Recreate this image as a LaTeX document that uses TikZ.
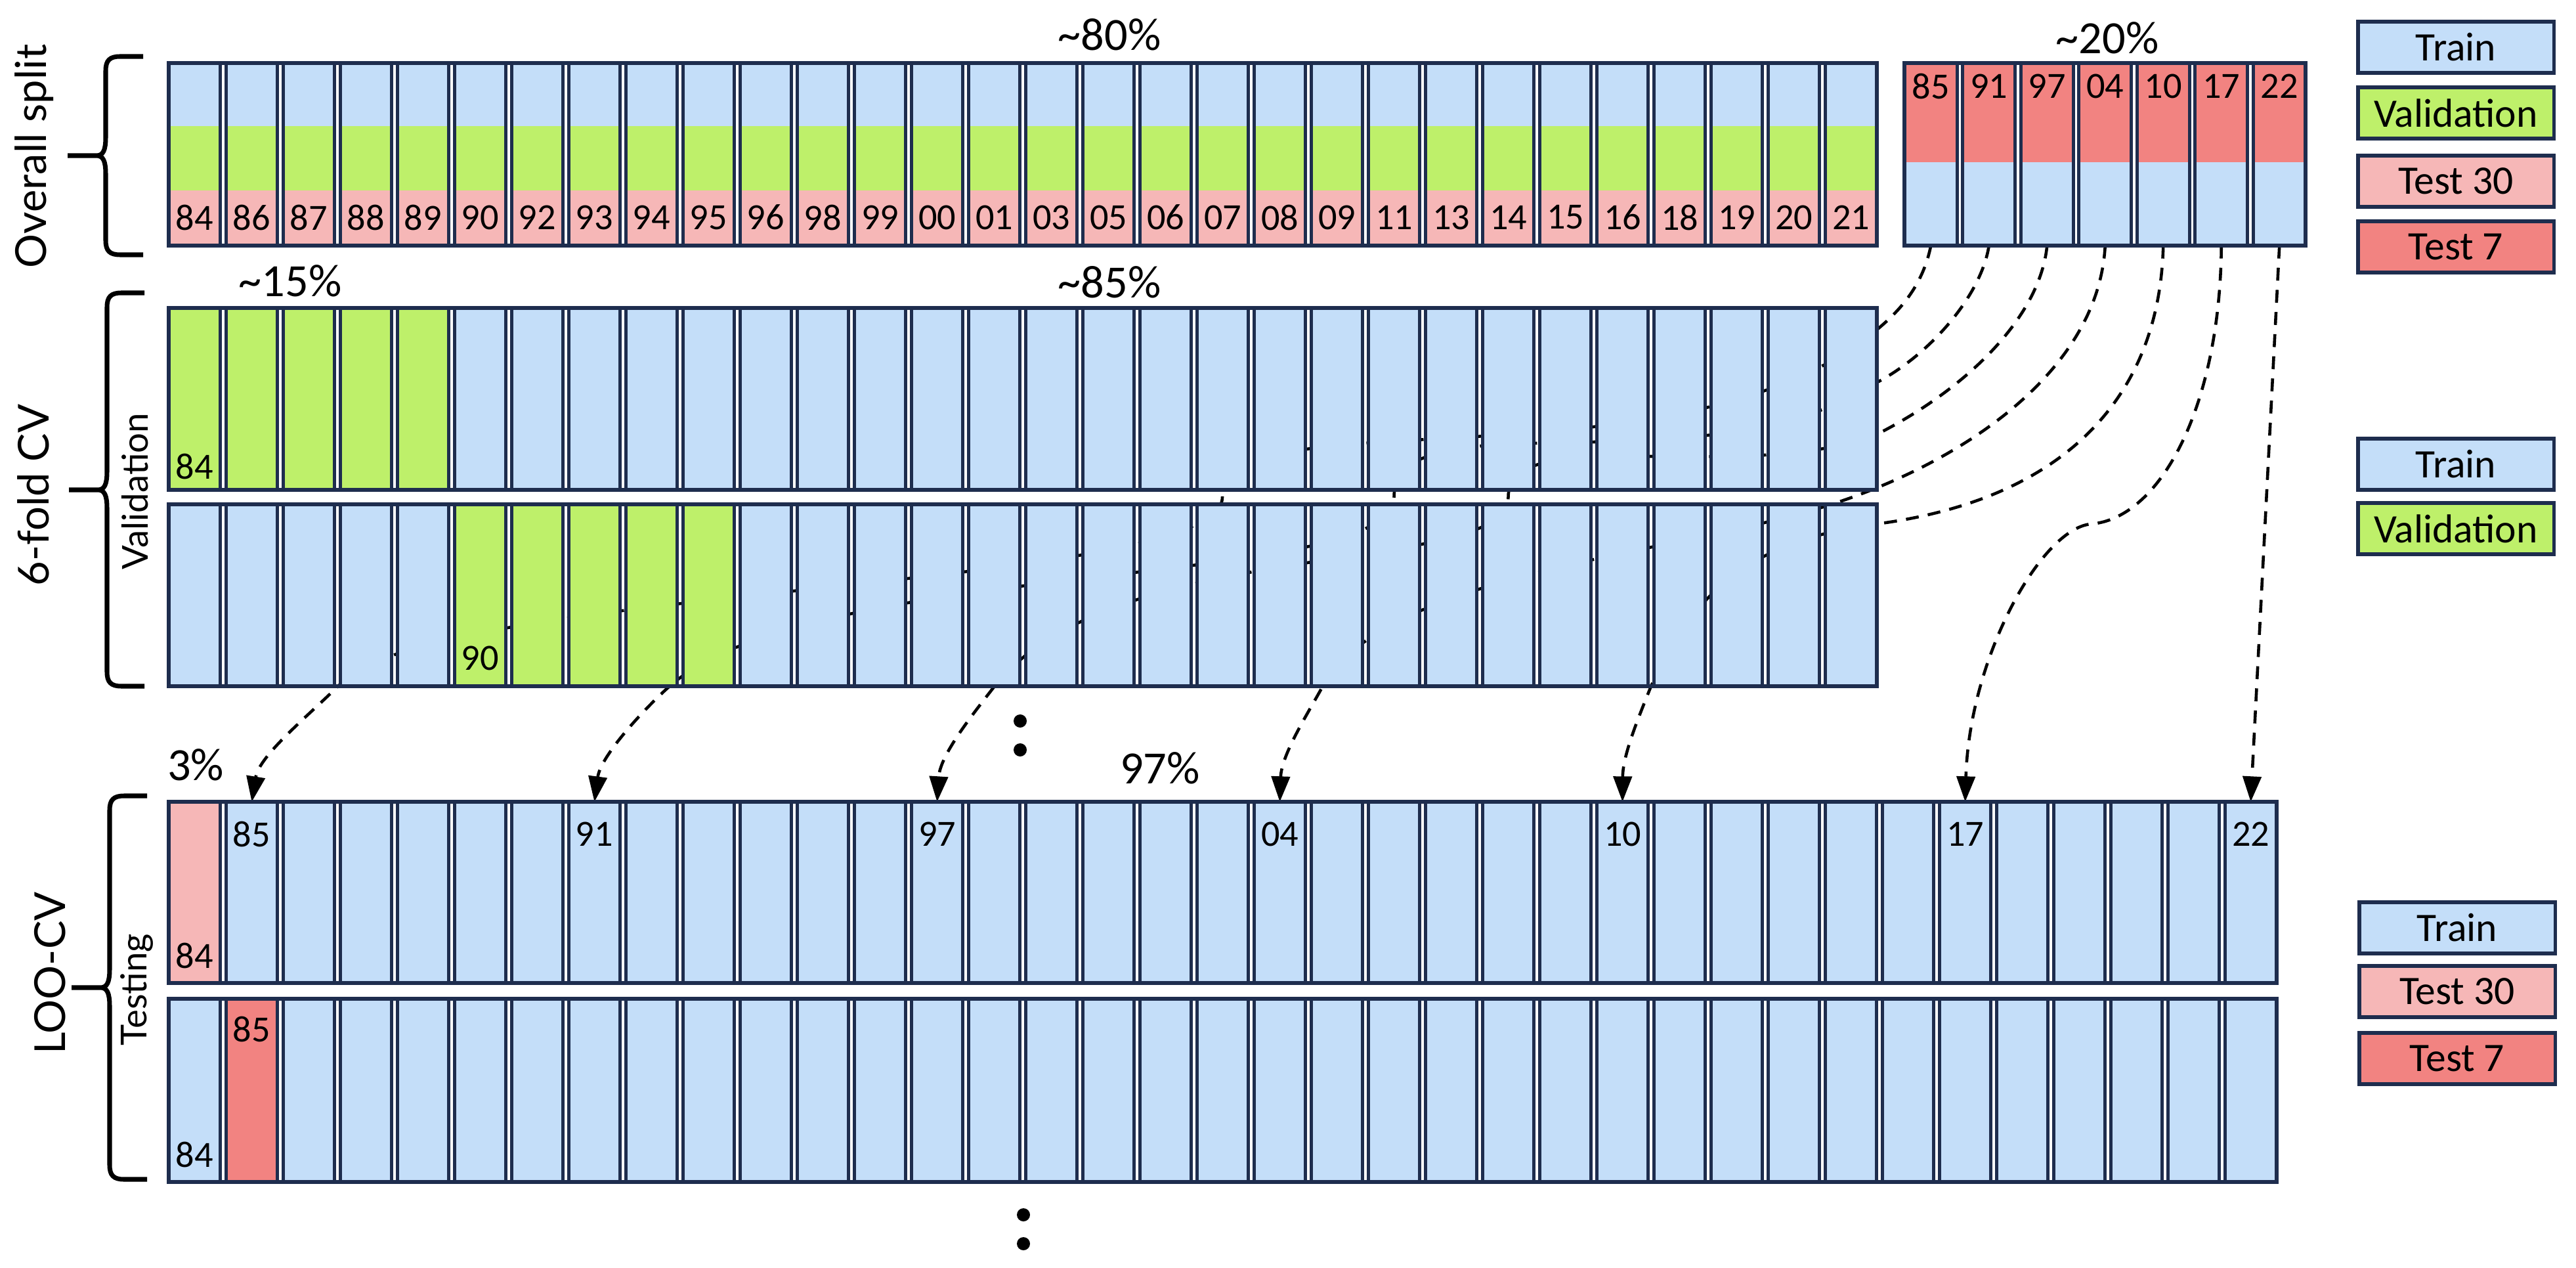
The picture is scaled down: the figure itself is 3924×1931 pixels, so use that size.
\documentclass[tikz,border=0pt]{standalone}
\usepackage{fontspec}
\setmainfont{Carlito}
\newfontfamily\sectfont{Lato}
\usetikzlibrary{arrows.meta}

\definecolor{trainblue}{RGB}{196,222,249}
\definecolor{valgreen}{RGB}{190,240,106}
\definecolor{testpink}{RGB}{246,183,183}
\definecolor{testred}{RGB}{242,131,129}
\definecolor{rim}{RGB}{30,45,78}

\pgfdeclarelayer{behind}
\pgfsetlayers{behind,main}

\begin{document}
\begin{tikzpicture}[
		x=0.01cm, y=-0.01cm,
		col/.style={draw=rim, line width=1.45pt},
		rowframe/.style={draw=rim, line width=1.8pt},
		yearlab/.style={inner sep=0pt, font=\fontsize{16}{16}\selectfont},
		share/.style={inner sep=0pt, font=\fontsize{20}{20}\selectfont},
		legbox/.style={draw=rim, line width=1.5pt, minimum width=2.98cm, minimum height=0.78cm, inner sep=0pt, font=\fontsize{17.5}{17.5}\selectfont},
		secttext/.style={inner sep=0pt, rotate=90, font=\sectfont\fontsize{18.5}{18.5}\selectfont},
		subtext/.style={inner sep=0pt, rotate=90, font=\sectfont\fontsize{15.5}{15.5}\selectfont},
		grp/.style={line width=2pt},
		link/.style={line width=1.3pt, dash pattern=on 5.6pt off 4pt, -{Triangle[length=11pt, width=8pt]}},
		dot/.style={circle, fill, inner sep=0pt, minimum size=0.2cm},
	]
		\useasboundingbox (0,0) rectangle (3924,1931);

		% overall split, ~80% part
		\foreach \yr [count=\k] in {84,86,87,88,89,90,92,93,94,95,96,98,99,00,01,03,05,06,07,08,09,11,13,14,15,16,18,19,20,21} {
			\pgfmathsetmacro{\xl}{253+(\k-1)*87+4.25}
			\pgfmathsetmacro{\xr}{\xl+78.5}
			\fill[trainblue] (\xl,96) rectangle (\xr,192);
			\fill[valgreen] (\xl,192) rectangle (\xr,290);
			\fill[testpink] (\xl,290) rectangle (\xr,374);
			\draw[col] (\xl,96) rectangle (\xr,374);
			\node[yearlab] (all-\yr) at ({(\xl+\xr)/2},331) {\yr};
		}
		\draw[rowframe] (257.25,96) rectangle (2858.75,374);

		% ~20% part
		\foreach \yr [count=\k] in {85,91,97,04,10,17,22} {
			\pgfmathsetmacro{\xl}{2897+(\k-1)*88.5+4.25}
			\pgfmathsetmacro{\xr}{\xl+80}
			\fill[testred] (\xl,96) rectangle (\xr,247);
			\fill[trainblue] (\xl,247) rectangle (\xr,374);
			\draw[col] (\xl,96) rectangle (\xr,374);
			\node[yearlab] (held-\yr) at ({(\xl+\xr)/2},131) {\yr};
			\coordinate (src-\yr) at ({(\xl+\xr)/2},374);
		}
		\draw[rowframe] (2901.25,96) rectangle (3512.25,374);

		\node[share] (pct-80) at (1690,53) {\textasciitilde80\%};
		\node[share] (pct-20) at (3210,58) {\textasciitilde20\%};

		% 6-fold CV
		\foreach \k in {1,...,30} {
			\pgfmathsetmacro{\xl}{253+(\k-1)*87+4.25}
			\pgfmathsetmacro{\xr}{\xl+78.5}
			\ifnum\k<6 \def\fa{valgreen}\else\def\fa{trainblue}\fi
			\ifnum\k>5 \ifnum\k<11 \def\fb{valgreen}\else\def\fb{trainblue}\fi\else\def\fb{trainblue}\fi
			\draw[col, fill=\fa] (\xl,469) rectangle (\xr,746);
			\draw[col, fill=\fb] (\xl,768) rectangle (\xr,1045);
		}
		\draw[rowframe] (257.25,469) rectangle (2858.75,746);
		\draw[rowframe] (257.25,768) rectangle (2858.75,1045);
		\node[yearlab] (fold1-84) at (296.5,710) {84};
		\node[yearlab] (fold2-90) at (731.5,1002) {90};
		\node[share] (pct-15) at (442,428) {\textasciitilde15\%};
		\node[share] (pct-85) at (1690,430) {\textasciitilde85\%};

		% LOO-CV
		\foreach \k in {1,...,37} {
			\pgfmathsetmacro{\xl}{253+(\k-1)*87+4.25}
			\pgfmathsetmacro{\xr}{\xl+78.5}
			\ifnum\k=1 \def\fa{testpink}\else\def\fa{trainblue}\fi
			\ifnum\k=2 \def\fb{testred}\else\def\fb{trainblue}\fi
			\draw[col, fill=\fa] (\xl,1221) rectangle (\xr,1497);
			\draw[col, fill=\fb] (\xl,1521) rectangle (\xr,1800);
		}
		\draw[rowframe] (257.25,1221) rectangle (3467.75,1497);
		\draw[rowframe] (257.25,1521) rectangle (3467.75,1800);
		\foreach \k/\yr in {2/85,8/91,14/97,20/04,26/10,32/17,37/22} {
			\node[yearlab] (loo-\yr) at ({253+(\k-0.5)*87},1270) {\yr};
			\coordinate (dst-\yr) at ({253+(\k-0.5)*87},1221);
		}
		\node[yearlab] (loo1-84) at (296.5,1455) {84};
		\node[yearlab] (loo2-84) at (296.5,1758) {84};
		\node[yearlab] (loo2-85) at (383.5,1567) {85};
		\node[share] (pct-3) at (298,1165) {3\%};
		\node[share] (pct-97) at (1767,1170) {97\%};

		\node[dot] (more-a) at (1554,1098) {};
		\node[dot] (more-b) at (1554,1142) {};
		\node[dot] (more-c) at (1559,1850) {};
		\node[dot] (more-d) at (1559,1894) {};

		% braces and section names
		\foreach \bx/\bt/\bm/\bb in {161/86/237/388, 163/446/746/1045, 167/1212/1504/1796} {
			\draw[grp] ({\bx+57},\bt) -- ({\bx+22},\bt) .. controls ({\bx+6},\bt) and (\bx,{\bt+6}) .. (\bx,{\bt+22})
				-- (\bx,{\bm-28}) .. controls (\bx,{\bm-8}) and ({\bx-4},\bm) .. ({\bx-14},\bm) -- ({\bx-58},\bm)
				({\bx-58},\bm) -- ({\bx-14},\bm) .. controls ({\bx-4},\bm) and (\bx,{\bm+8}) .. (\bx,{\bm+28})
				-- (\bx,{\bb-22}) .. controls (\bx,{\bb-6}) and ({\bx+6},\bb) .. ({\bx+22},\bb) -- ({\bx+57},\bb);
		}
		\node[secttext] (sec-split) at (52,238) {Overall split};
		\node[secttext] (sec-fold) at (51,754) {6-fold CV};
		\node[secttext] (sec-loo) at (76,1482) {LOO-CV};
		\node[subtext] (sub-val) at (206,748) {Validation};
		\node[subtext] (sub-test) at (208,1507) {Testing};

		% legends
		\node[legbox, fill=trainblue] (key-train) at (3741,72) {Train};
		\node[legbox, fill=valgreen] (key-val) at (3741,172) {Validation};
		\node[legbox, fill=testpink] (key-t30) at (3741,276) {Test 30};
		\node[legbox, fill=testred] (key-t7) at (3741,376) {Test 7};
		\node[legbox, fill=trainblue] (cvkey-train) at (3741,707) {Train};
		\node[legbox, fill=valgreen] (cvkey-val) at (3741,805) {Validation};
		\node[legbox, fill=trainblue] (lookey-train) at (3743,1413) {Train};
		\node[legbox, fill=testpink] (lookey-t30) at (3743,1510) {Test 30};
		\node[legbox, fill=testred] (lookey-t7) at (3743,1612) {Test 7};

		% held-out years into LOO-CV, drawn behind the rows
		\begin{pgfonlayer}{behind}
			\draw[link] (src-85) .. controls (2928,440) and (2888,478) .. (2858,503)
				.. controls (2558,753) and (1862,600) .. (1862,757)
				.. controls (1862,900) and (670,890) .. (520,1040)
				.. controls (470,1090) and (395,1150) .. (dst-85);
			\draw[link] (src-91) .. controls (3018,450) and (2940,540) .. (2858,583)
				.. controls (2600,750) and (2123.5,600) .. (2123.5,757)
				.. controls (2123.5,900) and (1245,847) .. (1020,1045)
				.. controls (985,1076) and (915,1150) .. (dst-91);
			\draw[link] (src-97) .. controls (3108,480) and (3000,590) .. (2858,662)
				.. controls (2650,740) and (2297.5,640) .. (2297.5,757)
				.. controls (2297.5,880) and (1701,811) .. (1515,1045)
				.. controls (1480,1090) and (1432,1150) .. (dst-97);
			\draw[link] (src-04) .. controls (3197,560) and (3000,700) .. (2790,768)
				.. controls (2552,845) and (2113,871) .. (2015,1045)
				.. controls (1990,1090) and (1952,1150) .. (dst-04);
			\draw[link] (src-10) .. controls (3290,600) and (3150,760) .. (2858,798)
				.. controls (2660,824) and (2578,908) .. (2515,1045)
				.. controls (2495,1095) and (2472,1150) .. (dst-10);
			\draw[link] (src-17) .. controls (3382,620) and (3290,790) .. (3185,798)
				.. controls (3110,805) and (3000,1000) .. (dst-17);
			\draw[link] (src-22) -- (dst-22);
		\end{pgfonlayer}
	\end{tikzpicture}
\end{document}
